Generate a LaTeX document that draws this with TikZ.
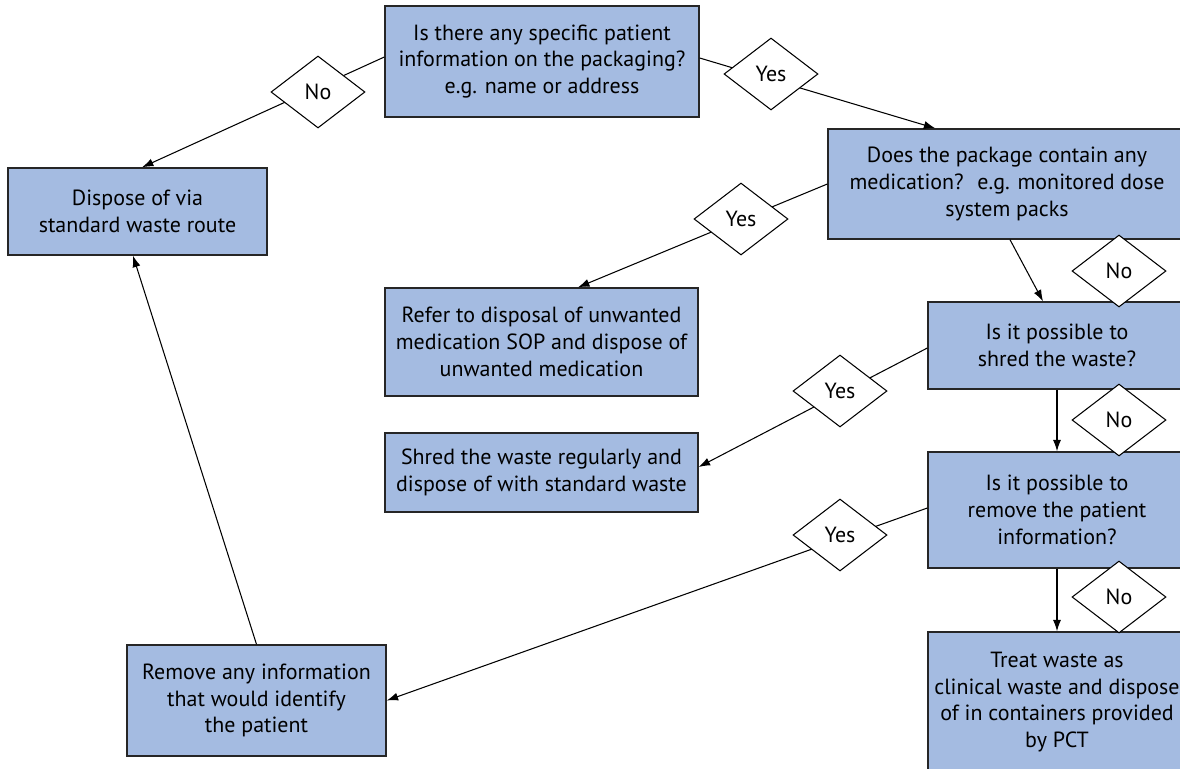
\documentclass[tikz,border=0pt]{standalone}
\usepackage{fontspec}
\setmainfont{PT Sans}
\usetikzlibrary{shapes.geometric,arrows.meta}
\definecolor{boxblue}{RGB}{164,187,225}
\tikzset{
  box/.style={draw=black!85,fill=boxblue,line width=0.8pt,align=center,inner sep=0pt,
    font=\fontsize{12.5}{15.2}\selectfont},
  dec/.style={diamond,draw,fill=white,line width=0.6pt,inner sep=0pt,
    minimum width=1.88cm,minimum height=1.44cm,font=\fontsize{12.5}{15}\selectfont},
  arr/.style={-{Latex[length=6.5pt,width=4.6pt]}},
}
\begin{document}
\begin{tikzpicture}[x=0.02cm,y=-0.02cm,line width=0.6pt]
  \useasboundingbox (0,0) rectangle (1180,768);
  % boxes
  \node[box,minimum width=6.28cm,minimum height=2.22cm] (q1) at (542,61.5) {Is there any specific patient\\information on the packaging?\\e.g. name or address};
  \node[box,minimum width=5.18cm,minimum height=1.74cm] (dispose) at (137.5,211.5) {Dispose of via\\standard waste route};
  \node[box,minimum width=7.16cm,minimum height=2.2cm] (q2) at (1007,184) {Does the package contain any\\medication?~ e.g. monitored dose\\system packs};
  \node[box,minimum width=6.26cm,minimum height=2.16cm] (refer) at (541.5,342) {Refer to disposal of unwanted\\medication SOP and dispose of\\unwanted medication};
  \node[box,minimum width=5.16cm,minimum height=1.74cm] (q3) at (1057,345.5) {Is it possible to\\shred the waste?};
  \node[box,minimum width=6.26cm,minimum height=1.58cm] (shred) at (541.5,472.5) {Shred the waste regularly and\\dispose of with standard waste};
  \node[box,minimum width=5.16cm,minimum height=2.32cm] (q4) at (1057,510) {Is it possible to\\remove the patient\\information?};
  \node[box,minimum width=5.16cm,minimum height=2.8cm] (treat) at (1057,702) {Treat waste as\\clinical waste and dispose\\of in containers provided\\by PCT};
  \node[box,minimum width=5.18cm,minimum height=2.22cm] (remove) at (256.5,700.5) {Remove any information\\that would identify\\the patient};
  % connectors
  \draw[arr] ([yshift=0.09cm]q1.west) -- ([xshift=0.09cm]dispose.north);
  \draw[arr] ([yshift=0.07cm]q1.east) -- ([xshift=2.16cm]q2.north west);
  \draw[arr] (q2.west) -- ([xshift=0.73cm]refer.north);
  \draw[arr] ([xshift=0.06cm]q2.south) -- ([xshift=-0.28cm]q3.north);
  \draw[arr] ([yshift=-0.05cm]q3.west) -- ([yshift=0.11cm]shred.east);
  \draw[arr] (q3.south) -- (q4.north);
  \draw[arr] ([yshift=0.04cm]q4.west) -- (remove.east);
  \draw[arr] (q4.south) -- (treat.north);
  \draw[arr] (remove.north) -- ([xshift=-0.09cm]dispose.south);
  % decisions
  \node[dec] (no1) at (318,92) {No};
  \node[dec] (yes1) at (771,74) {Yes};
  \node[dec] (yes2) at (741,219) {Yes};
  \node[dec] (no2) at (1119,271) {No};
  \node[dec] (yes3) at (840,391) {Yes};
  \node[dec] (no3) at (1119,420) {No};
  \node[dec] (yes4) at (840,535) {Yes};
  \node[dec] (no4) at (1119,597) {No};
\end{tikzpicture}
\end{document}
